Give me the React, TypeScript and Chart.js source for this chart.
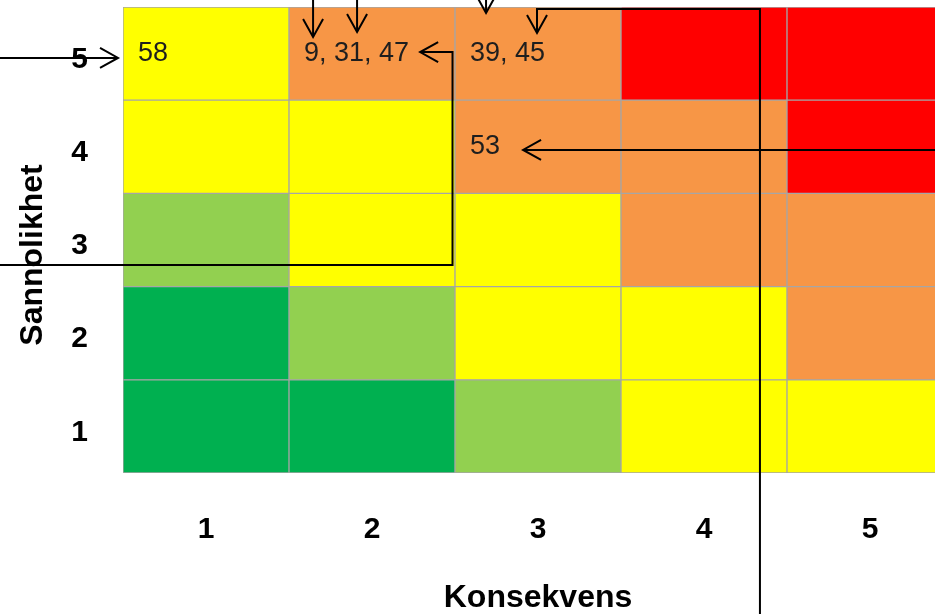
import React, { useEffect, useRef } from 'react';
import { Chart, registerables } from 'chart.js';

Chart.register(...registerables);

// Axis categories
const consequences = ['1', '2', '3', '4', '5'];
const likelihoods = ['1', '2', '3', '4', '5'];

// Risk level per cell (1 = low ... 5 = high), one array per likelihood row
const riskRow1 = [1, 1, 2, 3, 3];
const riskRow2 = [1, 2, 3, 3, 4];
const riskRow3 = [2, 3, 3, 4, 4];
const riskRow4 = [3, 3, 4, 4, 5];
const riskRow5 = [3, 4, 4, 5, 5];
const riskRows = [riskRow1, riskRow2, riskRow3, riskRow4, riskRow5];

// Each row occupies one likelihood step
const cellSpan = [1, 1, 1, 1, 1];

// Risk identifiers placed in cells
const labelConsequence = [1, 2, 3, 3];
const labelLikelihood = [5, 5, 5, 4];
const labelText = ['58', '9, 31, 47', '39, 45', '53'];

// Arrow paths in grid units (x: consequence columns from left edge, y: likelihood rows from bottom)
const arrowPaths: number[][][] = [
  [[-1, 4.453], [-0.03, 4.453]],
  [[-1, 2.232], [1.985, 2.232], [1.985, 4.517], [1.79, 4.517]],
  [[5.6, 3.466], [2.41, 3.466]],
  [[1.145, 5.4], [1.145, 4.678]],
  [[1.41, 5.4], [1.41, 4.732]],
  [[2.187, 5.4], [2.187, 4.936]],
  [[3.837, -2], [3.837, 4.979], [2.494, 4.979], [2.494, 4.721]],
];

const levelColors: Record<number, string> = {
  1: '#00B050',
  2: '#92D050',
  3: '#FFFF00',
  4: '#F79646',
  5: '#FF0000',
};

const TICK_FONT = '"Liberation Sans Narrow", "Arial Narrow", "Liberation Sans", Arial, sans-serif';
const MAIN_FONT = '"Liberation Sans", Arial, sans-serif';

export default function App() {
  const ref = useRef<HTMLCanvasElement | null>(null);

  useEffect(() => {
    if (!ref.current) return;

    const overlay = {
      id: 'overlay',
      afterDraw(chart: any) {
        const { ctx, chartArea } = chart;
        const yScale = chart.scales.y;
        const colW = chartArea.width / consequences.length;
        const gx = (u: number) => chartArea.left + u * colW;
        const gy = (v: number) => yScale.getPixelForValue(v);

        ctx.save();
        // Y axis title
        ctx.translate(42, 255);
        ctx.rotate(-Math.PI / 2);
        ctx.font = `bold 32px ${MAIN_FONT}`;
        ctx.fillStyle = '#000';
        ctx.textAlign = 'center';
        ctx.textBaseline = 'alphabetic';
        ctx.fillText('Sannolikhet', 0, 0);
        ctx.restore();

        // Cell labels
        ctx.save();
        ctx.font = `27px ${MAIN_FONT}`;
        ctx.fillStyle = '#1e1e1e';
        ctx.textAlign = 'left';
        ctx.textBaseline = 'middle';
        labelText.forEach((t, i) => {
          const x = gx(labelConsequence[i] - 1) + 15;
          const y = gy(labelLikelihood[i] - 0.5);
          ctx.fillText(t, x, y);
        });
        ctx.restore();

        // Arrows
        ctx.save();
        ctx.strokeStyle = '#000';
        ctx.lineWidth = 2;
        ctx.lineJoin = 'miter';
        arrowPaths.forEach((path) => {
          const pts = path.map(([u, v]) => [gx(u), gy(v)]);
          ctx.beginPath();
          ctx.moveTo(pts[0][0], pts[0][1]);
          for (let i = 1; i < pts.length; i++) ctx.lineTo(pts[i][0], pts[i][1]);
          ctx.stroke();
          const [tx, ty] = pts[pts.length - 1];
          const [px, py] = pts[pts.length - 2];
          const len = Math.hypot(tx - px, ty - py) || 1;
          const dx = (tx - px) / len;
          const dy = (ty - py) / len;
          const L = 18;
          const W = 10;
          ctx.beginPath();
          ctx.moveTo(tx - dx * L - dy * W, ty - dy * L + dx * W);
          ctx.lineTo(tx, ty);
          ctx.lineTo(tx - dx * L + dy * W, ty - dy * L - dx * W);
          ctx.stroke();
        });
        ctx.restore();
      },
    };

    const chart = new Chart(ref.current, {
      type: 'bar',
      data: {
        labels: consequences,
        datasets: likelihoods.map((l, r) => ({
          label: l,
          data: cellSpan,
          backgroundColor: riskRows[r].map((lv) => levelColors[lv]),
          borderColor: '#A6A6A6',
          borderWidth: 1,
          borderSkipped: false,
          barPercentage: 1,
          categoryPercentage: 1,
        })),
      },
      options: {
        animation: false,
        responsive: false,
        devicePixelRatio: 1,
        layout: { padding: { top: 7, right: 7, left: 0, bottom: 0 } },
        plugins: {
          legend: { display: false },
          tooltip: { enabled: false },
        },
        scales: {
          x: {
            stacked: true,
            grid: { display: false },
            border: { display: false },
            ticks: {
              color: '#000',
              padding: 31,
              font: { family: TICK_FONT, size: 30, weight: 'bold' },
            },
            title: {
              display: true,
              text: 'Konsekvens',
              color: '#000',
              padding: 0,
              font: { family: MAIN_FONT, size: 32, weight: 'bold', lineHeight: 1 },
            },
            afterFit: (axis: any) => {
              axis.height = 141;
              axis.paddingLeft = 0;
              axis.paddingRight = 0;
            },
          },
          y: {
            stacked: true,
            min: 0,
            max: 5,
            grid: { display: false },
            border: { display: false },
            afterBuildTicks: (axis: any) => {
              axis.ticks = likelihoods.map((_, i) => ({ value: i + 0.5 }));
            },
            ticks: {
              color: '#000',
              padding: 27,
              labelOffset: 6,
              autoSkip: false,
              font: { family: TICK_FONT, size: 30, weight: 'bold' },
              callback: (v: any) => likelihoods[Math.round(Number(v) - 0.5)],
            },
            afterFit: (axis: any) => {
              axis.width = 123;
              axis.paddingTop = 0;
              axis.paddingBottom = 0;
            },
          },
        },
      },
      plugins: [overlay],
    } as any);

    return () => chart.destroy();
  }, []);

  return (
    <div
      style={{
        position: 'fixed',
        left: 0,
        top: 0,
        width: 935,
        height: 614,
        overflow: 'hidden',
        background: '#fff',
      }}
    >
      <canvas ref={ref} width={960} height={614} style={{ display: 'block', width: 960, height: 614 }} />
    </div>
  );
}
